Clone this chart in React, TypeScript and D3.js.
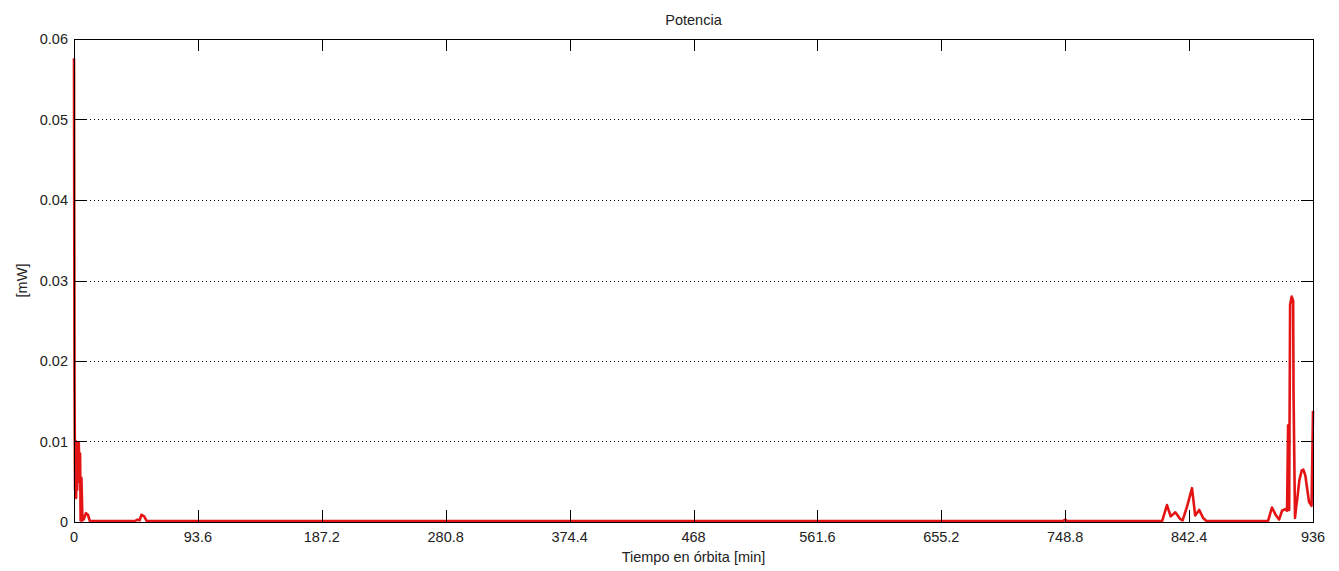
import React from "react";
import * as d3 from "d3";

const title = "Potencia";
const xLabel = "Tiempo en órbita [min]";
const yLabel = "[mW]";
const xTicks = [0, 93.6, 187.2, 280.8, 374.4, 468, 561.6, 655.2, 748.8, 842.4, 936];
const xTickLabels = ["0", "93.6", "187.2", "280.8", "374.4", "468", "561.6", "655.2", "748.8", "842.4", "936"];
const yTicks = [0, 0.01, 0.02, 0.03, 0.04, 0.05, 0.06];
const yTickLabels = ["0", "0.01", "0.02", "0.03", "0.04", "0.05", "0.06"];

const timeMin = [
  0, 0.4, 0.8, 1.2, 1.6, 2.0, 2.4, 2.8, 3.2, 3.6, 4.2, 4.6, 5.0, 5.6, 6.4, 7.5, 9, 10.5, 12,
  46, 48, 49.5, 51, 53, 55,
  747, 748.8, 750.5,
  822, 825.7, 828.5, 832, 835.5, 837.5, 841, 844.6, 847, 850, 853, 855.5,
  902, 905, 908.1, 910.4, 912.6, 914.9, 916.4, 917.2, 918, 918.7, 919.9, 921, 921.3, 922.4,
  923.4, 924.2, 925.7, 927.5, 928.7, 930.2, 931.7, 933.0, 934.9, 936,
];
const powerMW = [
  0.0576, 0.017, 0.004, 0.0101, 0.003, 0.0098, 0.004, 0.0095, 0.005, 0.0098, 0.006, 0.0085, 0.0002, 0.0055, 0.0002, 0.0004, 0.0011, 0.0009, 0.00012,
  0.00012, 0.0003, 0.0002, 0.0009, 0.0007, 0.00012,
  0.00012, 0.0003, 0.00012,
  0.00012, 0.0021, 0.0007, 0.0012, 0.0004, 0.0002, 0.002, 0.0042, 0.0008, 0.0015, 0.0005, 0.00012,
  0.00012, 0.0018, 0.0008, 0.0003, 0.0014, 0.0016, 0.0014, 0.012, 0.0015, 0.027, 0.028, 0.0275, 0.016, 0.0005,
  0.002, 0.003, 0.0052, 0.0064, 0.0065, 0.0058, 0.004, 0.0025, 0.002, 0.0138,
];

const W = 1339;
const H = 571;
const left = 74;
const right = 1313;
const top = 39;
const bottom = 522;
const font = "'Liberation Sans', Arial, sans-serif";

export default function App() {
  const x = d3.scaleLinear().domain([0, 936]).range([left, right]);
  const y = d3.scaleLinear().domain([0, 0.06]).range([bottom, top]);
  const data = timeMin.map((t, i) => [t, powerMW[i]] as [number, number]);
  const line = d3
    .line<[number, number]>()
    .x((d) => x(d[0]))
    .y((d) => y(d[1]))(data);
  const tl = 12;
  return (
    <svg
      width={W}
      height={H}
      style={{ position: "absolute", left: 0, top: 0, background: "#fff" }}
    >
      <rect x={0} y={0} width={W} height={H} fill="#fff" />
      {yTicks.slice(1, -1).map((v) => (
        <line
          key={"g" + v}
          x1={left}
          x2={right}
          y1={Math.round(y(v)) + 0.5}
          y2={Math.round(y(v)) + 0.5}
          stroke="#000"
          strokeWidth={1}
          strokeDasharray="1,3"
        />
      ))}
      <path d={line || ""} fill="none" stroke="#e41414" strokeWidth={2.6} strokeLinejoin="round" />
      <rect
        x={left + 0.5}
        y={top + 0.5}
        width={right - left}
        height={bottom - top}
        fill="none"
        stroke="#000"
        strokeWidth={1}
      />
      {xTicks.map((v, i) => {
        const px = Math.round(x(v)) + 0.5;
        return (
          <g key={"x" + v}>
            <line x1={px} x2={px} y1={bottom} y2={bottom - tl} stroke="#000" />
            <line x1={px} x2={px} y1={top} y2={top + tl} stroke="#000" />
            <text
              x={x(v)}
              y={542}
              textAnchor="middle"
              fontFamily={font}
              fontSize={14.5}
              fill="#222"
            >
              {xTickLabels[i]}
            </text>
          </g>
        );
      })}
      {yTicks.map((v, i) => {
        const py = Math.round(y(v)) + 0.5;
        return (
          <g key={"y" + v}>
            <line x1={left} x2={left + tl} y1={py} y2={py} stroke="#000" />
            <line x1={right} x2={right - tl} y1={py} y2={py} stroke="#000" />
            <text
              x={68}
              y={y(v) + 5}
              textAnchor="end"
              fontFamily={font}
              fontSize={14.5}
              fill="#222"
            >
              {yTickLabels[i]}
            </text>
          </g>
        );
      })}
      <text
        x={(left + right) / 2}
        y={25}
        textAnchor="middle"
        fontFamily={font}
        fontSize={14.5}
        fill="#222"
      >
        {title}
      </text>
      <text
        x={(left + right) / 2}
        y={562}
        textAnchor="middle"
        fontFamily={font}
        fontSize={14.5}
        fill="#222"
      >
        {xLabel}
      </text>
      <text
        transform={`translate(27, ${(top + bottom) / 2}) rotate(-90)`}
        textAnchor="middle"
        fontFamily={font}
        fontSize={14.5}
        fill="#222"
      >
        {yLabel}
      </text>
    </svg>
  );
}
